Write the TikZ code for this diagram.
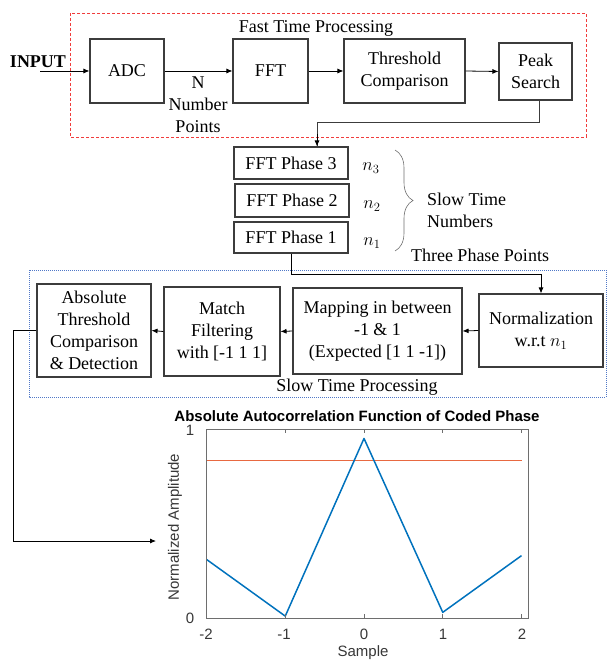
\documentclass[tikz,border=0pt]{standalone}
\usepackage{fix-cm}
\usepackage{fontspec}
\setmainfont{Liberation Serif}
\newfontfamily\plotfont{Liberation Sans}
\usetikzlibrary{arrows.meta,decorations.pathreplacing}

\definecolor{boxline}{RGB}{60,60,60}
\definecolor{fastred}{RGB}{240,60,60}
\definecolor{slowblue}{RGB}{80,120,200}
\definecolor{axisgray}{RGB}{110,110,110}
\definecolor{labelgray}{RGB}{55,55,55}
\definecolor{mblue}{RGB}{0,114,189}
\definecolor{morange}{RGB}{232,105,65}

\begin{document}
\begin{tikzpicture}[x=1pt,y=-1pt,
  txt/.style={font=\fontsize{18}{22}\selectfont, align=center, inner sep=0pt},
  blk/.style={txt, draw=boxline, line width=1.1pt},
  arr/.style={-{Latex[length=6pt,width=5pt]}, line width=0.8pt, black},
  link/.style={line width=0.9pt, draw=boxline},
  pf/.style={font=\plotfont\fontsize{15}{17}\selectfont, text=labelgray, inner sep=0pt}
]
\useasboundingbox (0,0) rectangle (607,660);

% ---------------- fast time processing ----------------
\draw[fastred, line width=0.8pt, dash pattern=on 3pt off 2pt] (70,13) rectangle (586,137);
\node[txt] (fasttitle) at (316,28) {Fast Time Processing};

\node[txt, font=\fontsize{18}{22}\selectfont\bfseries] (input) at (38,62) {INPUT};
\coordinate (inp) at (40,71);

\node[blk, minimum width=74pt, minimum height=64pt] (adc) at (127,71) {ADC};
\node[blk, minimum width=75pt, minimum height=64pt] (fft) at (270.5,71) {FFT};
\node[blk, minimum width=121pt, minimum height=64pt] (thr) at (404.5,71) {Threshold\\Comparison};
\node[blk, minimum width=73pt, minimum height=57pt] (peak) at (535.5,71.5) {Peak\\Search};
\node[txt] (npts) at (198,105) {N\\Number\\Points};

\draw[arr] (inp) -- (adc.west);
\draw[arr] (adc.east) -- (fft.west);
\draw[arr] (fft.east) -- (thr.west);
\draw[arr] (thr.east) -- (peak.west);

% ---------------- slow time numbers ----------------
\node[blk, minimum width=114pt, minimum height=32pt] (ph3) at (291,163) {FFT Phase 3};
\node[blk, minimum width=114pt, minimum height=33pt] (ph2) at (292,200.5) {FFT Phase 2};
\node[blk, minimum width=114pt, minimum height=31pt] (ph1) at (291,237.5) {FFT Phase 1};
\node[txt] (n3) at (371,168) {$n_3$};
\node[txt] (n2) at (372,206) {$n_2$};
\node[txt] (n1) at (372,243) {$n_1$};
\draw[decorate, decoration={brace, amplitude=18pt}, draw=axisgray, line width=0.6pt]
  (395,150) -- (395,251);
\node[txt, align=left, anchor=west] (stn) at (427,210) {Slow Time\\Numbers};
\node[txt] (tpp) at (480,255) {Three Phase Points};

\draw[link] ([xshift=3.5pt]peak.south) -- ++(0,22) -| ([xshift=26pt]ph3.north);
\draw[arr] ([xshift=26pt]ph3.north) ++(0,-12) -- ([xshift=26pt]ph3.north);

% ---------------- slow time processing ----------------
\draw[slowblue, line width=0.8pt, dash pattern=on 1pt off 1pt] (29,270) rectangle (606,397);
\node[txt] (slowtitle) at (357,387) {Slow Time Processing};

\node[blk, minimum width=114pt, minimum height=93pt] (abs) at (94,330.5)
  {Absolute\\Threshold\\Comparison\\\& Detection};
\node[blk, minimum width=116pt, minimum height=89pt] (match) at (222,331.5)
  {Match\\Filtering\\with [-1 1 1]};
\node[blk, minimum width=169pt, minimum height=86pt] (map) at (377.5,331)
  {Mapping in between\\-1 \& 1\\(Expected [1 1 -1])};
\node[blk, minimum width=124pt, minimum height=73pt] (norm) at (541,330.5)
  {Normalization\\w.r.t $n_1$};

\draw[arr] (ph1.south) -- ++(0,21) -| (norm.north);
\draw[arr] (norm.west) -- (map.east);
\draw[arr] (map.west) -- (match.east);
\draw[arr] (match.west) -- (abs.west -| abs.east);

\coordinate (plotin) at (156,541);
\draw[arr] (abs.west) -- ++(-23,0) |- (plotin);

% ---------------- autocorrelation plot ----------------
\begin{scope}[shift={(364pt,-618pt)}, x=78.75pt, y=189pt]
  \draw[morange, line width=1pt] (-2,0.835) -- (2,0.835);
  \draw[mblue, line width=1.5pt, line join=round]
    (-2,0.31) -- (-1,0.01) -- (0,0.95) -- (1,0.03) -- (2,0.33);
  \draw[axisgray, line width=0.8pt] (-2,0) rectangle (2.09,1);
  \foreach \k in {-2,-1,0,1,2} {
    \draw[axisgray, line width=0.8pt] (\k,0) -- (\k,0.022);
    \draw[axisgray, line width=0.8pt] (\k,1) -- (\k,0.978);
  }
  \foreach \v in {0,1} {
    \draw[axisgray, line width=0.8pt] (-2,\v) -- (-1.95,\v);
    \draw[axisgray, line width=0.8pt] (2.09,\v) -- (2.04,\v);
  }
\end{scope}

\node[pf, text=black, font=\plotfont\fontsize{15}{17}\selectfont\bfseries] (ptitle) at (357,416)
  {Absolute Autocorrelation Function of Coded Phase};
\node[pf, rotate=90] (ylab) at (175,527) {Normalized Amplitude};
\node[pf] (xlab) at (363,653) {Sample};
\node[pf] (y1) at (190,430) {1};
\node[pf] (y0) at (190,618) {0};
\node[pf] (xm2) at (206,634) {-2};
\node[pf] (xm1) at (284,634) {-1};
\node[pf] (x0) at (364,634) {0};
\node[pf] (x1) at (443,634) {1};
\node[pf] (x2) at (522,634) {2};
\end{tikzpicture}
\end{document}
